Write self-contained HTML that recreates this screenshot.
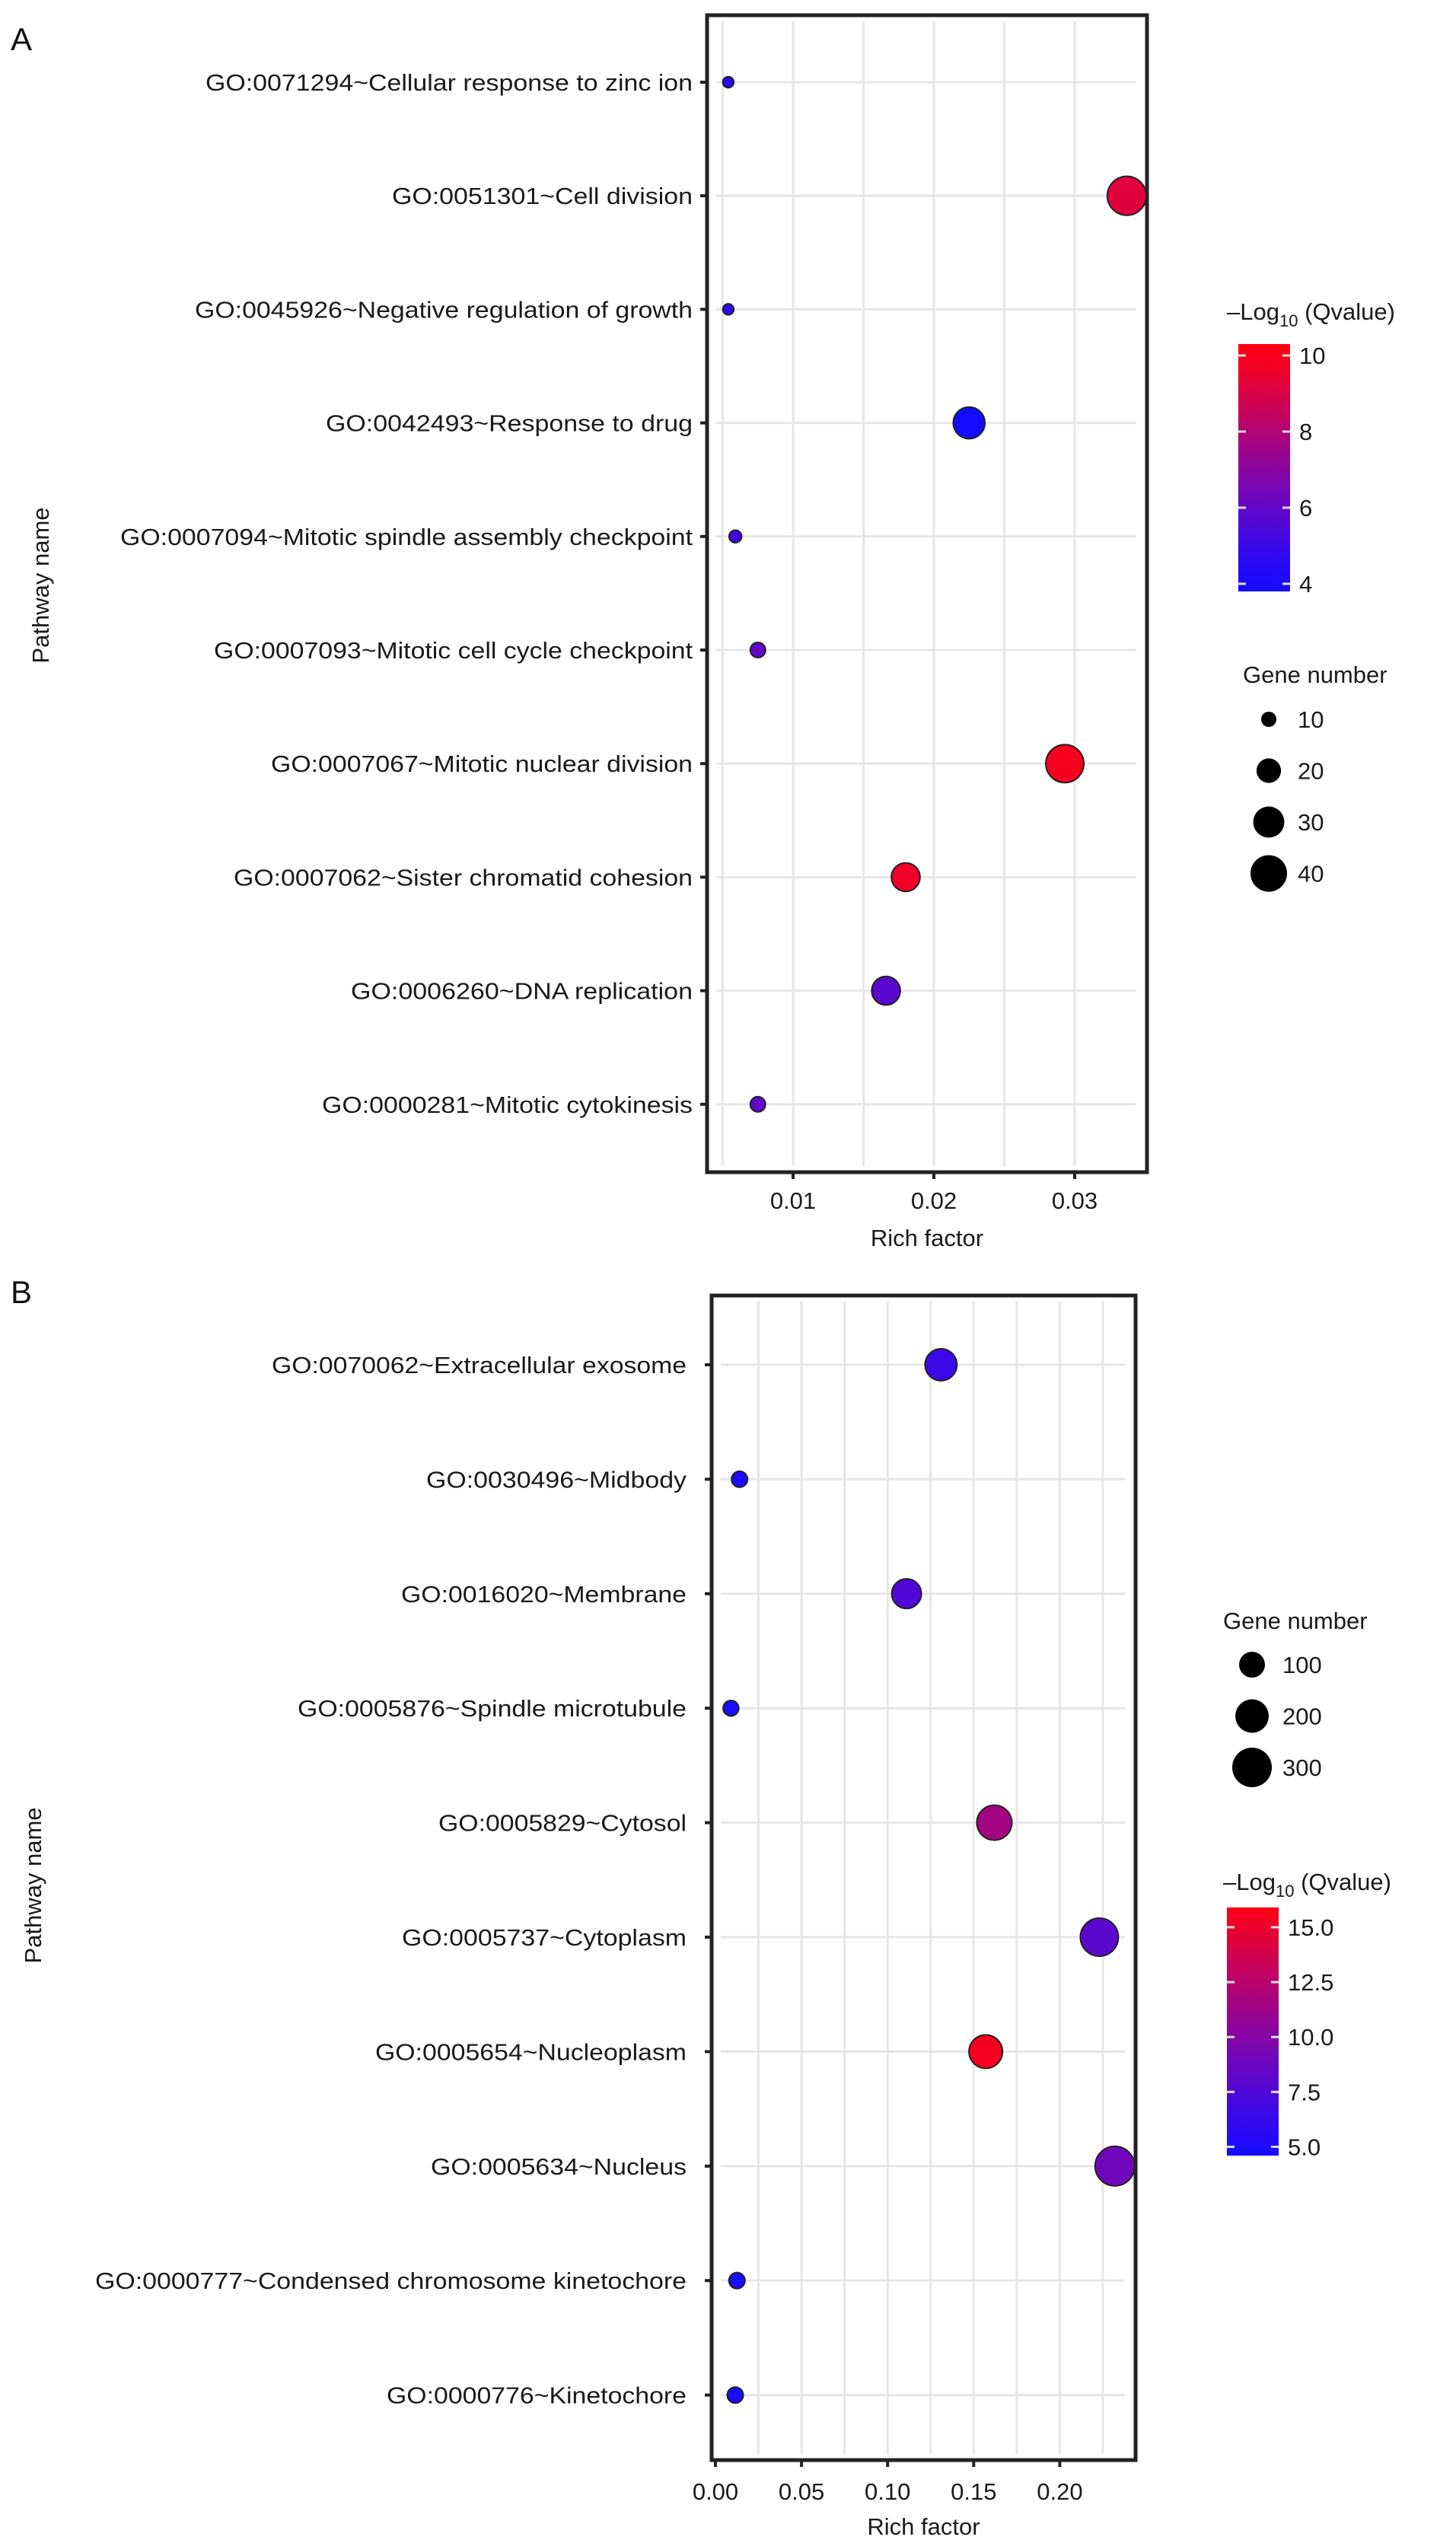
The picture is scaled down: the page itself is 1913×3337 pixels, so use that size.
<!DOCTYPE html>
<html><head><meta charset="utf-8"><style>
html,body{margin:0;padding:0;background:#fff;}
svg{display:block;font-family:"Liberation Sans",Arial,sans-serif;}
</style></head><body>
<svg id="fig" width="1913" height="3337" viewBox="0 0 1913 3337" xmlns="http://www.w3.org/2000/svg"></svg>
<script>
// ---- Panel A data ----
const catsA = ["GO:0071294~Cellular response to zinc ion","GO:0051301~Cell division","GO:0045926~Negative regulation of growth","GO:0042493~Response to drug","GO:0007094~Mitotic spindle assembly checkpoint","GO:0007093~Mitotic cell cycle checkpoint","GO:0007067~Mitotic nuclear division","GO:0007062~Sister chromatid cohesion","GO:0006260~DNA replication","GO:0000281~Mitotic cytokinesis"];
const richA = [0.0054,0.0337,0.0054,0.0225,0.0059,0.0075,0.0293,0.0180,0.0166,0.0075];
const qA = [4.5,9.2,4.6,4.0,5.0,6.0,9.8,9.6,5.8,6.0];
const genesA = [7,45,7,31,8,10,43,26,26,10];
const xticksA = [0.01,0.02,0.03];
const xtickLabelsA = ["0.01","0.02","0.03"];
const cbTicksA = [4,6,8,10];
const sizeLegA = [10,20,30,40];
// ---- Panel B data ----
const catsB = ["GO:0070062~Extracellular exosome","GO:0030496~Midbody","GO:0016020~Membrane","GO:0005876~Spindle microtubule","GO:0005829~Cytosol","GO:0005737~Cytoplasm","GO:0005654~Nucleoplasm","GO:0005634~Nucleus","GO:0000777~Condensed chromosome kinetochore","GO:0000776~Kinetochore"];
const richB = [0.131,0.014,0.111,0.009,0.162,0.223,0.157,0.232,0.0125,0.0115];
const qB = [6.5,5.0,7.5,5.0,11.5,8.0,15.5,9.0,5.0,5.0];
const genesB = [178,8,147,5,224,273,201,300,8,8];
const xticksB = [0,0.05,0.10,0.15,0.20];
const xtickLabelsB = ["0.00","0.05","0.10","0.15","0.20"];
const cbTicksB = [5,7.5,10,12.5,15];
const cbTickLabelsB = ["5.0","7.5","10.0","12.5","15.0"];
const sizeLegB = [100,200,300];

const NS="http://www.w3.org/2000/svg";
const svg=document.getElementById('fig');
function el(tag,attrs,parent){const e=document.createElementNS(NS,tag);for(const k in attrs)e.setAttribute(k,attrs[k]);(parent||svg).appendChild(e);return e;}
function txt(s,attrs,parent){const e=el('text',attrs,parent);e.textContent=s;return e;}
function lerp(a,b,t){return a+(b-a)*t;}
function colorFor(v,lo,hi){let t=Math.max(0,Math.min(1,(v-lo)/(hi-lo)));
 const r=Math.round(lerp(20,255,t)),g=Math.round(lerp(10,0,t)),b=Math.round(lerp(255,20,Math.pow(t,1.3)));return `rgb(${r},${g},${b})`;}

function panel(cfg){
 const g=el('g',{});
 
 
 const {L,R,T,B}=cfg.box;
 const xs=v=>cfg.x0+v*cfg.xk;
 const ys=i=>cfg.rowY0+i*cfg.rowStep;
 // gridlines vertical (major + minor)
 for(let v=cfg.gridStart; v<=cfg.gridEnd+1e-9; v+=cfg.gridStep){
  const x=xs(v); if(x<=L+3||x>=R-3) continue;
  const gl=el('line',{x1:x,x2:x,y1:T+8,y2:B-8,stroke:'#e6e6e6','stroke-width':3},g);
  
  
 }
 cfg.cats.forEach((c,i)=>{
  const y=ys(i);
  const hl=el('line',{x1:L+12,x2:R-14,y1:y,y2:y,stroke:'#e6e6e6','stroke-width':3},g);
  
  
  const tk=el('line',{x1:L-9,x2:L,y1:y,y2:y,stroke:'#222','stroke-width':4},g);
  
  
  const lb=txt(c,{x:cfg.labelEnd,y:y+11,'text-anchor':'end','font-size':31,fill:'#1a1a1a',textLength:cfg.labelEnd-cfg.labelStarts[i],lengthAdjust:'spacingAndGlyphs'},g);
  
  
 });
 // frame
 const fr=el('rect',{x:L,y:T,width:R-L,height:B-T,fill:'none',stroke:'#222','stroke-width':5},g);
 
 
 // x ticks
 cfg.xticks.forEach((v,i)=>{
  const x=xs(v);
  const t=el('line',{x1:x,x2:x,y1:B,y2:B+9,stroke:'#222','stroke-width':4},g);
  
  
  const l=txt(cfg.xtickLabels[i],{x:x,y:cfg.xLabY,'text-anchor':'middle','font-size':31,fill:'#1a1a1a'},g);
  
  
 });
 const xt=txt('Rich factor',{x:(L+R)/2,y:cfg.xTitleY,'text-anchor':'middle','font-size':31,fill:'#1a1a1a'},g);
 
 
 const yt=txt('Pathway name',{x:0,y:0,transform:`translate(${cfg.yTitleX},${cfg.yTitleY}) rotate(-90)`,'text-anchor':'middle','font-size':31,fill:'#1a1a1a'},g);
 
 
 const pl=txt(cfg.letter,{x:14,y:cfg.letterY,'font-size':42,fill:'#111'},g);
 
 
 // points
 cfg.cats.forEach((c,i)=>{
  const p=el('circle',{cx:xs(cfg.rich[i]),cy:ys(i),r:cfg.rFn(cfg.genes[i]),fill:colorFor(cfg.q[i],cfg.qlo,cfg.qhi),stroke:'#222','stroke-width':2},g);
  
  
 });
 // colorbar
 const cb=cfg.cb;
 const gid='grad'+cfg.letter;
 const defs=el('defs',{},g);
 const lg=el('linearGradient',{id:gid,x1:0,y1:1,x2:0,y2:0},defs);
 for(let k=0;k<=10;k++){el('stop',{offset:k/10,'stop-color':colorFor(cfg.cbLo+(cfg.cbHi-cfg.cbLo)*k/10,cfg.qlo,cfg.qhi)},lg);}
 const cr=el('rect',{x:cb.x,y:cb.top,width:cb.w,height:cb.bot-cb.top,fill:`url(#${gid})`},g);
 
 
 const cys=v=>cb.bot-(v-cfg.cbLo)/(cfg.cbHi-cfg.cbLo)*(cb.bot-cb.top);
 cfg.cbTicks.forEach((v,i)=>{
  const y=cys(v);
  el('line',{x1:cb.x,x2:cb.x+10,y1:y,y2:y,stroke:'#ddd','stroke-width':3},g);
  el('line',{x1:cb.x+cb.w-10,x2:cb.x+cb.w,y1:y,y2:y,stroke:'#ddd','stroke-width':3},g);
  const l=txt(cfg.cbTickLabels[i],{x:cb.x+cb.w+12,y:y+11,'font-size':31,fill:'#1a1a1a'},g);
  
  
 });
 const ct=el('text',{x:cb.titleX,y:cb.titleY,'font-size':31,fill:'#1a1a1a'},g);
 
 
 ct.innerHTML='–Log<tspan font-size="22" dy="9">10</tspan><tspan dy="-9"> (Qvalue)</tspan>';
 // size legend
 const sl=cfg.sl;
 const st=txt('Gene number',{x:sl.titleX,y:sl.titleY,'font-size':31,fill:'#1a1a1a'},g);
 
 
 cfg.sizeLeg.forEach((n,i)=>{
  const y=sl.y0+i*sl.step;
  const c=el('circle',{cx:sl.cx,cy:y,r:cfg.rFn(n),fill:'#000'},g);
  
  
  const l=txt(String(n),{x:sl.lx,y:y+11,'font-size':31,fill:'#1a1a1a'},g);
  
  
 });
}

panel({name:'panel-a-bubble-chart',letter:'A',letterY:66,
 box:{L:929,R:1507,T:20,B:1540},x0:857,xk:18500,
 rowY0:108,rowStep:149.2,
 gridStart:0.005,gridEnd:0.035,gridStep:0.005,
 cats:catsA,rich:richA,q:qA,genes:genesA,qlo:4,qhi:10,
 labelEnd:910,labelStarts:[270,515,256,428,158,281,356,307,461,423],
 xticks:xticksA,xtickLabels:xtickLabelsA,xLabY:1588,xTitleY:1637,
 yTitleX:64,yTitleY:769,
 rFn:n=>Math.sqrt(Math.max(36,-59+15.9*n)),
 cb:{x:1627,w:68,top:452,bot:777,titleX:1612,titleY:420},cbLo:3.8,cbHi:10.3,
 cbTicks:cbTicksA,cbTickLabels:cbTicksA.map(String),
 sl:{titleX:1633,titleY:897,y0:945,step:67.5,cx:1667,lx:1705},sizeLeg:sizeLegA});

panel({name:'panel-b-bubble-chart',letter:'B',letterY:1712,
 box:{L:935,R:1492,T:1702,B:3232},x0:940,xk:2262,
 rowY0:1793,rowStep:150.4,
 gridStart:0.025,gridEnd:0.25,gridStep:0.025,
 cats:catsB,rich:richB,q:qB,genes:genesB,qlo:4.6,qhi:15.9,
 labelEnd:902,labelStarts:[357,560,527,391,576,528,493,566,125,508],
 xticks:xticksB,xtickLabels:xtickLabelsB,xLabY:3284,xTitleY:3330,
 yTitleX:54,yTitleY:2477,
 rFn:n=>Math.sqrt(95.5+1.935*n),
 cb:{x:1612,w:68,top:2506,bot:2832,titleX:1607,titleY:2483},cbLo:4.6,cbHi:15.9,
 cbTicks:cbTicksB,cbTickLabels:cbTickLabelsB,
 sl:{titleX:1607,titleY:2140,y0:2187,step:67.5,cx:1645,lx:1685},sizeLeg:sizeLegB});
</script>
</body></html>
